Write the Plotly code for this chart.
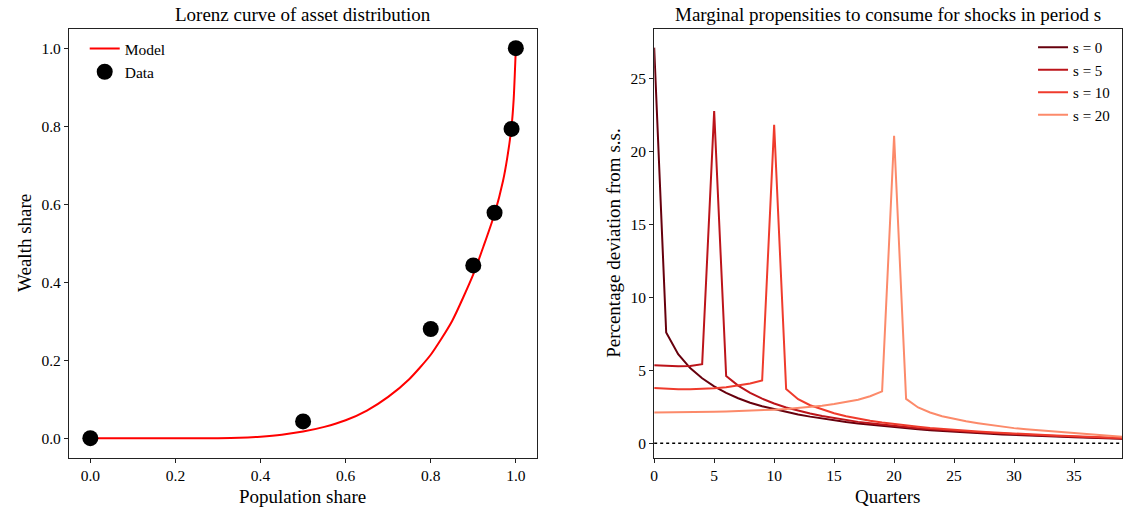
import plotly.graph_objects as go

# ---------------- data ----------------
# Lorenz curve: model
model_x = [0.0, 0.1, 0.2, 0.3, 0.35, 0.4, 0.45, 0.5, 0.55, 0.6, 0.65, 0.7, 0.75,
           0.8, 0.85, 0.9, 0.925, 0.95, 0.97, 0.98, 0.99, 0.995, 1.0]
model_y = [0.0, 0.0, 0.0, 0.0, 0.001, 0.004, 0.009, 0.017, 0.029, 0.046, 0.071, 0.106, 0.152,
           0.214, 0.300, 0.420, 0.495, 0.575, 0.66, 0.72, 0.80, 0.87, 1.0]
# Lorenz curve: data points
data_x = [0.0, 0.5, 0.8, 0.9, 0.95, 0.99, 1.0]
data_y = [0.0, 0.043, 0.28, 0.443, 0.578, 0.793, 1.0]

# MPC paths
quarters = list(range(40))
mpc_s0 = [27.15, 7.6, 6.1, 5.15, 4.45, 3.9, 3.45, 3.08, 2.77, 2.53, 2.35, 2.15, 1.97, 1.82,
          1.68, 1.56, 1.45, 1.35, 1.26, 1.17, 1.09, 1.02, 0.95, 0.89, 0.83, 0.78, 0.73, 0.68,
          0.64, 0.60, 0.56, 0.53, 0.50, 0.47, 0.44, 0.41, 0.38, 0.35, 0.32, 0.30]
mpc_s5 = [5.35, 5.3, 5.28, 5.3, 5.42, 22.8, 4.6, 3.95, 3.45, 3.05, 2.72, 2.45, 2.22, 2.03,
          1.86, 1.71, 1.58, 1.46, 1.36, 1.26, 1.18, 1.10, 1.03, 0.96, 0.90, 0.84, 0.79, 0.74,
          0.69, 0.65, 0.61, 0.57, 0.54, 0.50, 0.47, 0.44, 0.41, 0.38, 0.35, 0.32]
mpc_s10 = [3.78, 3.73, 3.7, 3.7, 3.72, 3.76, 3.83, 3.95, 4.1, 4.3, 21.85, 3.72, 3.02, 2.6,
           2.3, 2.05, 1.85, 1.68, 1.53, 1.41, 1.30, 1.20, 1.12, 1.04, 0.97, 0.91, 0.85, 0.80,
           0.75, 0.70, 0.66, 0.62, 0.58, 0.54, 0.51, 0.47, 0.44, 0.41, 0.38, 0.35]
mpc_s20 = [2.10, 2.10, 2.11, 2.12, 2.13, 2.15, 2.17, 2.19, 2.22, 2.26, 2.30, 2.35, 2.41, 2.48,
           2.57, 2.68, 2.81, 2.98, 3.22, 3.55, 21.1, 3.04, 2.45, 2.1, 1.85, 1.65, 1.5, 1.37,
           1.25, 1.14, 1.03, 0.95, 0.88, 0.82, 0.76, 0.69, 0.62, 0.55, 0.49, 0.43]
mpc_series = [("s = 0", mpc_s0), ("s = 5", mpc_s5), ("s = 10", mpc_s10), ("s = 20", mpc_s20)]
mpc_colors = ["#67000d", "#bc141a", "#ef3b2c", "#fc8a6a"]

# ---------------- figure ----------------
W, H = 1126, 512
FONT = "Liberation Serif"
fig = go.Figure()

fig.add_trace(go.Scatter(x=model_x, y=model_y, mode="lines", name="Model",
                         line=dict(color="#ff0000", width=2, shape="spline", smoothing=0.6),
                         xaxis="x", yaxis="y", legend="legend", legendgroup="a"))
fig.add_trace(go.Scatter(x=data_x, y=data_y, mode="markers", name="Data",
                         marker=dict(color="black", size=16),
                         xaxis="x", yaxis="y", legend="legend", legendgroup="b"))

for (name, vals), col in zip(mpc_series, mpc_colors):
    fig.add_trace(go.Scatter(x=quarters, y=vals, mode="lines", name=name,
                             line=dict(color=col, width=2),
                             xaxis="x2", yaxis="y2", legend="legend2", legendgroup=name))

fig.add_shape(type="line", xref="x2 domain", yref="y2", x0=0, x1=1, y0=0, y1=0,
              line=dict(color="black", width=1.5, dash="dot"))

def px_x(p):
    return p / W

def px_y(p):
    return 1 - p / H

axis_common = dict(showline=True, mirror=True, linecolor="#222", linewidth=1.2,
                   ticks="outside", ticklen=4, tickcolor="#222", showgrid=False,
                   zeroline=False, tickfont=dict(family=FONT, size=15.5, color="black"))

ytop, ybot = 28.7, 457.7
fig.update_layout(
    width=W, height=H, margin=dict(l=0, r=0, t=0, b=0),
    paper_bgcolor="white", plot_bgcolor="white",
    font=dict(family=FONT, color="black"),
    xaxis=dict(domain=[px_x(65.3), px_x(535)], range=[-0.05, 1.05],
               tickvals=[0, 0.2, 0.4, 0.6, 0.8, 1.0], tickformat=".1f", anchor="y",
               **axis_common),
    yaxis=dict(domain=[px_y(ybot), px_y(ytop)], range=[-0.05, 1.05],
               tickvals=[0, 0.2, 0.4, 0.6, 0.8, 1.0], tickformat=".1f", anchor="x",
               **axis_common),
    xaxis2=dict(domain=[px_x(652.5), px_x(1122)], range=[0, 39],
                tickvals=[0, 5, 10, 15, 20, 25, 30, 35], anchor="y2", **axis_common),
    yaxis2=dict(domain=[px_y(ybot), px_y(ytop)], range=[-1.0, 28.45],
                tickvals=[0, 5, 10, 15, 20, 25], anchor="x2", **axis_common),
    legend=dict(x=px_x(81), y=px_y(32), xanchor="left", yanchor="top",
                bgcolor="rgba(0,0,0,0)", borderwidth=0, traceorder="grouped",
                tracegroupgap=0, font=dict(family=FONT, size=15.5, color="black")),
    legend2=dict(x=px_x(1115), y=px_y(31), xanchor="right", yanchor="top",
                 bgcolor="rgba(0,0,0,0)", borderwidth=0, traceorder="grouped",
                 tracegroupgap=0, font=dict(family=FONT, size=15, color="black")),
)

annots = [
    dict(text="Lorenz curve of asset distribution", x=px_x(300), y=px_y(14)),
    dict(text="Marginal propensities to consume for shocks in period s", x=px_x(887), y=px_y(14)),
    dict(text="Population share", x=px_x(300), y=px_y(496)),
    dict(text="Quarters", x=px_x(887), y=px_y(496)),
    dict(text="Wealth share", x=px_x(20), y=px_y(243), textangle=-90),
    dict(text="Percentage deviation from s.s.", x=px_x(611), y=px_y(243), textangle=-90),
]
for a in annots:
    fig.add_annotation(xref="paper", yref="paper", showarrow=False,
                       xanchor="center", yanchor="middle",
                       font=dict(family=FONT, size=19, color="black"), **a)

fig.write_html("out.html")
